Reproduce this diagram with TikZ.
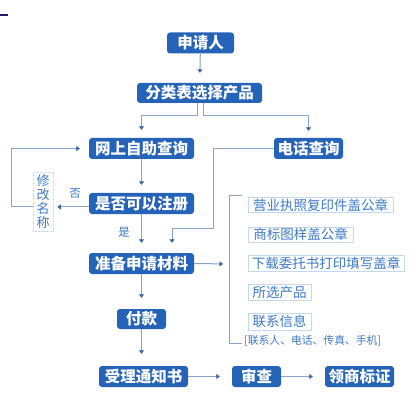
\documentclass[tikz,border=0pt]{standalone}
\usepackage{fontspec}
\newfontfamily\cjk{Noto Sans CJK SC}
\usetikzlibrary{arrows.meta,calc}
\definecolor{boxblue}{HTML}{2563B8}
\definecolor{lineblue}{HTML}{8AA3CA}
\definecolor{tipblue}{HTML}{3A62A8}
\definecolor{itemtext}{HTML}{3D7AC8}
\definecolor{itemedge}{HTML}{C6D8EE}
\definecolor{navy}{HTML}{1E1A6E}
\tikzset{
  stepbox/.style={fill=boxblue, text=white, rounded corners=3pt, inner sep=0pt,
    font=\cjk\fontsize{15.5}{17}\selectfont\bfseries},
  itembox/.style={draw=itemedge, line width=0.8pt, fill=white, text=itemtext, inner sep=0pt,
    font=\cjk\fontsize{13.5}{15}\selectfont},
  arr/.style={draw=lineblue, line width=1pt, -{Triangle[width=5pt,length=3.5pt,color=tipblue]}},
  plain/.style={draw=lineblue, line width=1pt},
  lbl/.style={text=itemtext, font=\cjk\fontsize{11.5}{13}\selectfont, inner sep=0pt}
}
\begin{document}
\begin{tikzpicture}[x=1pt,y=-1pt]
\useasboundingbox (0,0) rectangle (418,419);
\fill[white] (0,0) rectangle (418,419);
\draw[navy, line width=2pt] (0,15) -- (8,15);

\node[stepbox, minimum width=67pt, minimum height=21pt] (n1) at (200.5,43) {申请人};
\node[stepbox, minimum width=125pt, minimum height=20pt] (n2) at (199.5,93) {分类表选择产品};
\node[stepbox, minimum width=105pt, minimum height=21pt] (n3) at (141.5,148.5) {网上自助查询};
\node[stepbox, minimum width=69pt, minimum height=21pt] (n4) at (308.5,148.5) {电话查询};
\node[stepbox, minimum width=105pt, minimum height=21pt] (n5) at (141.5,203.5) {是否可以注册};
\node[stepbox, minimum width=105pt, minimum height=21pt] (n6) at (141.5,263.5) {准备申请材料};
\node[stepbox, minimum width=49pt, minimum height=20pt] (n7) at (141.5,319) {付款};
\node[stepbox, minimum width=89pt, minimum height=21pt] (n8) at (143.5,376.5) {受理通知书};
\node[stepbox, minimum width=49pt, minimum height=21pt] (n9) at (256.5,376.5) {审查};
\node[stepbox, minimum width=69pt, minimum height=21pt] (n10) at (359.5,376.5) {领商标证};

\node[itembox, dashed, dash pattern=on 1pt off 0.6pt, minimum width=20pt, minimum height=59pt, align=center,
  font=\cjk\fontsize{13}{14}\selectfont] (xg) at (43,201.5) {修\\改\\名\\称};

\node[itembox, minimum width=145pt, minimum height=15pt] (i1) at (320.5,205) {营业执照复印件盖公章};
\node[itembox, minimum width=105pt, minimum height=15pt] (i2) at (300.5,234.5) {商标图样盖公章};
\node[itembox, minimum width=156pt, minimum height=16pt] (i3) at (326,263) {下载委托书打印填写盖章};
\node[itembox, minimum width=63pt, minimum height=16pt] (i4) at (279.5,292) {所选产品};
\node[itembox, minimum width=63pt, minimum height=17pt] (i5) at (279.5,321.5) {联系信息};
\node[lbl, anchor=west, font=\cjk\fontsize{10.8}{12}\selectfont] (note) at (244,340.5) {[联系人、电话、传真、手机]};

\node[lbl] (no) at (75,193) {否};
\node[lbl] (yes) at (124,232) {是};

% connectors
\draw[arr, shorten >=10pt] (n1) -- (n2);
\draw[arr, shorten >=8pt] ($(n2.south)+(-2.5,0)$) -- ++(0,12) -| (n3.north);
\draw[arr, shorten >=7pt] ($(n2.south)+(3.5,0)$) -- ++(0,12) -| (n4.north);
\draw[arr, shorten >=8pt] (n3) -- (n5);
\draw[arr, shorten >=4pt] ($(n5.west)+(0,3.5)$) -- ($(n5.west -| xg.east)+(0,3.5)$);
\draw[arr, shorten >=9pt] ($(xg.west)+(0,5.5)$) -- ++(-21,0) |- (n3.west);
\coordinate (c1) at (213,228);
\draw[arr, shorten >=10pt] (n4.west) -| (c1) -| ($(n6.north)+(30.5,0)$);
\draw[arr, shorten >=10pt] (n5) -- (n6);
\coordinate (br) at (229,264);
\draw[arr, shorten >=6pt] (n6.east) -- (br);
\coordinate (brt) at (242,196);
\coordinate (brb) at (242,343);
\draw[plain] (brt) -- (brt -| br) -- (brb -| br) -- (brb);
\draw[arr, shorten >=11pt] (n6) -- (n7);
\draw[arr, shorten >=12pt] (n7.south) -- (n7.south |- n8.north);
\draw[arr, shorten >=12pt] (n8) -- (n9);
\draw[arr, shorten >=12pt] (n9) -- (n10);
\end{tikzpicture}
\end{document}
